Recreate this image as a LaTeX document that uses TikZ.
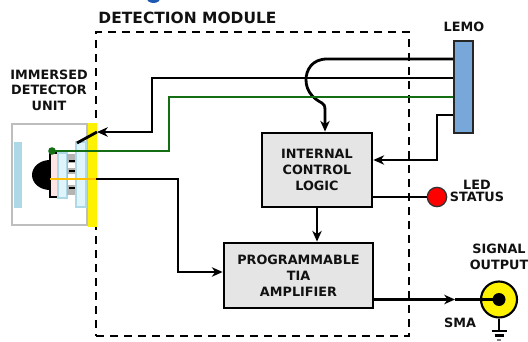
\documentclass[tikz,border=0pt]{standalone}
\usepackage{fontspec}
\setmainfont{DejaVu Sans}
\usetikzlibrary{arrows.meta}
\definecolor{txt}{RGB}{17,17,17}
\definecolor{boxgray}{RGB}{229,229,229}
\definecolor{lemoblue}{RGB}{120,168,218}
\definecolor{greenc}{RGB}{20,110,20}
\definecolor{orangec}{RGB}{255,190,0}
\definecolor{unitgray}{RGB}{190,190,190}
\definecolor{lightb}{RGB}{173,216,230}
\definecolor{cyanl}{RGB}{224,245,251}
\definecolor{pinkc}{RGB}{255,228,228}
\definecolor{cellgray}{RGB}{180,180,180}
\definecolor{titleblue}{RGB}{30,90,180}
\begin{document}
\begin{tikzpicture}[x=0.75pt,y=-0.75pt,
  wire/.style={line width=2.1pt, draw=black},
  arr/.style={wire, -{Stealth[length=8pt,width=7pt,inset=2.4pt]}},
  lbl/.style={font=\bfseries\fontsize{9.6}{12}\selectfont, align=center, text=txt, inner sep=0pt},
  box/.style={lbl, draw=black, line width=2.1pt, fill=boxgray},
  ttl/.style={font=\bfseries\fontsize{11.6}{14}\selectfont, text=txt, inner sep=0pt}]
\useasboundingbox (0,0) rectangle (528,342);
% cropped title fragment
\draw[titleblue, line width=2.2pt] (147.5,-3) arc[start angle=180,end angle=0,x radius=6,y radius=4.5];
% detection module
\node[draw=black, line width=2pt, dash pattern=on 6pt off 4.5pt, minimum width=234.75pt, minimum height=228pt, inner sep=0pt] (module) at (252.5,184) {};
\node[ttl] (mtitle) at (187.5,17.5) {DETECTION MODULE};
% immersed detector unit
\node[lbl, font=\bfseries\fontsize{9.6}{11.6}\selectfont] (ulabel) at (49,90) {IMMERSED\\DETECTOR\\UNIT};
\draw[unitgray, line width=1.6pt, fill=white] (12,124) rectangle (87,225);
\fill[lightb] (14,142) rectangle (22,208);
\fill[black] (50,160) arc[start angle=270,end angle=90,x radius=18,y radius=15] -- cycle;
\filldraw[fill=pinkc, draw=black, line width=1.2pt] (50,153) rectangle (58,197);
\filldraw[fill=cyanl, draw=lightb, line width=1pt] (58,153) rectangle (67,198);
\fill[cellgray] (67,154) rectangle (76,195);
\fill[white] (68,163) rectangle (75,168);
\fill[white] (68,174) rectangle (75,185);
\fill[black] (69,160) rectangle (75,162);
\fill[black] (69,170) rectangle (75,172);
\fill[black] (69,187) rectangle (75,189);
\filldraw[fill=cyanl, draw=lightb, line width=1pt] (76,142) rectangle (86,207);
\fill[yellow] (88,123) rectangle (97,227);
\draw[orangec, line width=2.2pt] (50,179) -- (96,179);
\coordinate (swtip) at (97,132);
\coordinate (swend) at (77,143);
\coordinate (detout) at (96,179);
\fill[greenc] (52,151) circle[radius=3.8];
\coordinate (gdot) at (52,151);
% blocks
\node[box, minimum width=82.5pt, minimum height=55.5pt] (ctrl) at (317,170) {INTERNAL\\CONTROL\\LOGIC};
\node[box, minimum width=111.75pt, minimum height=48.75pt] (amp) at (298.5,275.5) {PROGRAMMABLE\\TIA\\AMPLIFIER};
\node[draw=black!85, line width=1.3pt, fill=lemoblue, minimum width=14.25pt, minimum height=69pt, inner sep=0pt] (lemo) at (463.5,87) {};
\node[lbl] (lemolbl) at (464,27) {LEMO};
% wires from LEMO
\draw[arr] (lemo.west |- 0,59) -- (327,59) .. controls (312,59) and (306,70) .. (306,80)
  .. controls (306,93) and (316,100) .. (322,103) .. controls (324,104) and (325,106) .. (325,110)
  -- (325,0 |- ctrl.north);
\draw[arr] (lemo.west |- 0,78) -- (152,78) -- (152,132) -- (swtip);
\draw[wire] (swtip) -- (swend);
\draw[line width=2.1pt, greenc] (lemo.west |- 0,97) -- (169,97) -- (169,151) -- (gdot);
\draw[arr] (lemo.west |- 0,115) -- (437,115) -- (437,160) -- (ctrl.east |- 0,160);
% detector to amplifier
\draw[arr] (detout) -- (178,179) -- (178,272) -- (amp.west |- 0,272);
% control to amplifier
\draw[arr] (ctrl.south) -- (ctrl.south |- amp.north);
% LED
\node[circle, draw=black!80, fill=red, line width=1pt, minimum size=14.5pt, inner sep=0pt] (led) at (437,197) {};
\draw[wire] (ctrl.east |- led) -- (led);
\node[lbl, font=\bfseries\fontsize{9.6}{9}\selectfont] (ledlbl) at (477,191) {LED\\STATUS};
% SMA
\node[circle, draw=black, fill=yellow, line width=1.6pt, minimum size=27pt, inner sep=0pt] (sma) at (499,299.5) {};
\coordinate (midarr) at (455,299.5);
\draw[arr] (amp.east |- sma) -- (midarr);
\draw[wire] (midarr) -- (sma.center);
\fill[black] (sma.center) circle[radius=6.5];
\draw[line width=1.6pt] (sma.south) -- (499,331);
\draw[line width=1.6pt] (491.5,331) -- (506.5,331);
\draw[line width=1.6pt] (494.5,335.5) -- (503.5,335.5);
\draw[line width=1.6pt, gray] (497,340) -- (501,340);
\node[lbl] (smalbl) at (460,323) {SMA};
\node[lbl] (siglbl) at (499,257) {SIGNAL\\OUTPUT};
\end{tikzpicture}
\end{document}
